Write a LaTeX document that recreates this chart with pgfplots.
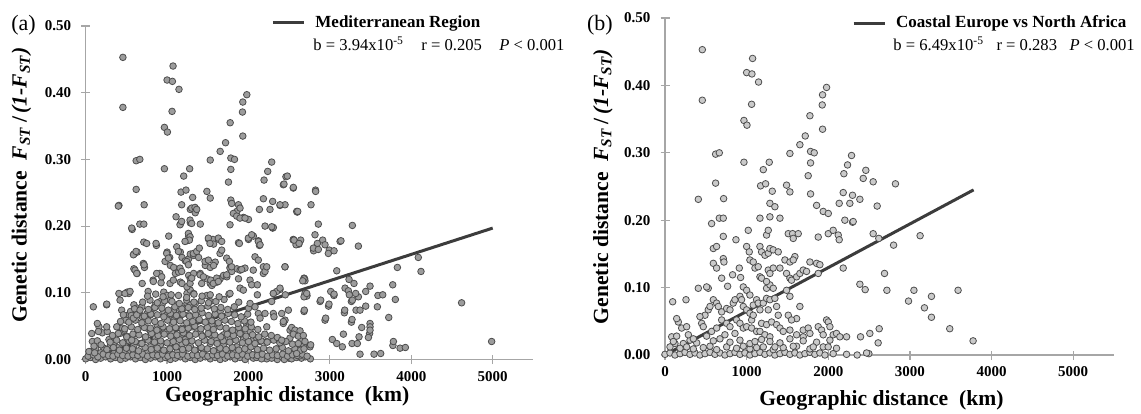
\documentclass[border=0pt]{standalone}
\usepackage{fontspec}
\setmainfont{Liberation Serif}
\usepackage{pgfplots}
\usepackage{pgfplotstable}
\pgfplotsset{compat=1.18}

\definecolor{axgray}{HTML}{A6A6A6}
\definecolor{ptedge}{HTML}{4D4D4D}
\definecolor{ptfillA}{HTML}{9C9C9C}
\definecolor{ptfillB}{HTML}{CACACA}
\definecolor{trend}{HTML}{3C3C3C}

% pairs of the coastal Europe vs North Africa comparison (also part of panel a)
\pgfplotstableread{
x y
457 0.453
457 0.378
620 0.298
665 0.300
620 0.255
408 0.231
718 0.232
967 0.286
967 0.348
1004 0.341
1000 0.419
1065 0.417
1073 0.440
1061 0.372
1146 0.405
1204 0.275
1277 0.286
1171 0.251
1232 0.254
1314 0.243
1489 0.252
1530 0.299
1530 0.242
1652 0.312
1718 0.325
1775 0.355
1783 0.302
1828 0.300
1783 0.285
1754 0.266
1783 0.239
1926 0.371
1930 0.386
1979 0.397
1930 0.335
2183 0.241
2297 0.237
2191 0.269
2236 0.282
2285 0.296
2428 0.262
2460 0.274
2550 0.257
2823 0.254
2599 0.221
2387 0.231
2297 0.197
2550 0.180
2619 0.173
3125 0.177
2800 0.163
2689 0.121
2387 0.105
2452 0.097
2718 0.096
3049 0.096
3590 0.096
2983 0.080
3264 0.087
3178 0.070
3264 0.056
3488 0.039
3774 0.021
2624 0.039
2509 0.032
2395 0.027
2611 0.018
2354 0.000
2497 0.002
1285 0.225
1346 0.220
571 0.195
665 0.203
714 0.203
1020 0.185
1163 0.203
1285 0.205
1408 0.203
1244 0.178
1265 0.185
1510 0.180
1563 0.180
1632 0.180
1571 0.173
1877 0.175
2000 0.180
2060 0.185
1938 0.213
2000 0.210
2122 0.178
2134 0.171
2203 0.200
2305 0.198
2183 0.129
2134 0.225
1857 0.222
2264 0.225
592 0.158
632 0.161
592 0.136
632 0.129
714 0.143
722 0.138
714 0.176
694 0.114
767 0.102
828 0.119
869 0.171
910 0.129
926 0.115
1000 0.161
1032 0.153
1040 0.141
1081 0.138
1102 0.129
1142 0.131
1163 0.161
1183 0.153
1163 0.116
1183 0.114
1224 0.148
1265 0.151
1285 0.158
1326 0.156
1265 0.126
1326 0.129
1285 0.121
1387 0.153
1408 0.129
1244 0.099
1285 0.104
1326 0.099
1244 0.109
1469 0.141
1530 0.138
1591 0.146
1571 0.141
1489 0.121
1530 0.114
1550 0.111
1612 0.116
1652 0.121
1693 0.126
1734 0.124
1775 0.138
1857 0.136
1877 0.121
1897 0.134
1489 0.096
1530 0.087
1652 0.072
1612 0.054
592 0.082
632 0.077
653 0.072
530 0.067
490 0.059
551 0.072
428 0.057
449 0.047
469 0.042
163 0.049
143 0.054
204 0.040
265 0.042
82 0.027
122 0.017
224 0.017
94 0.079
257 0.082
694 0.064
755 0.069
796 0.067
836 0.077
857 0.082
918 0.087
938 0.082
959 0.072
1000 0.067
1040 0.062
1081 0.074
1122 0.082
1142 0.077
1163 0.067
1204 0.077
1244 0.084
1265 0.067
1285 0.082
1346 0.084
1367 0.072
1387 0.059
1061 0.052
1081 0.059
694 0.052
755 0.047
796 0.042
877 0.052
918 0.047
959 0.040
1000 0.042
1061 0.040
1122 0.035
1183 0.047
1244 0.045
1306 0.049
1163 0.035
1224 0.030
1285 0.027
1367 0.045
1408 0.040
1448 0.035
1510 0.059
1550 0.052
1530 0.037
1612 0.030
1693 0.027
1693 0.037
1754 0.040
1775 0.032
1877 0.042
1918 0.037
1938 0.030
1979 0.052
2000 0.049
2020 0.042
2060 0.030
2101 0.032
2142 0.027
2224 0.027
408 0.099
530 0.099
510 0.101
959 0.101
1000 0.096
1040 0.089
0 0.001
61 0.003
122 0.000
184 0.002
245 0.004
306 0.001
367 0.003
428 0.000
490 0.002
551 0.004
612 0.001
673 0.003
734 0.000
796 0.002
857 0.004
918 0.001
979 0.003
1040 0.000
1102 0.002
1163 0.004
1224 0.001
1285 0.003
1346 0.000
1408 0.002
1469 0.004
1530 0.001
1591 0.003
1652 0.000
1714 0.002
1775 0.004
1836 0.001
1897 0.003
1959 0.000
2060 0.002
2224 0.001
2469 0.003
184 0.010
265 0.012
347 0.009
469 0.011
551 0.013
633 0.008
755 0.012
877 0.010
959 0.013
1040 0.009
1122 0.011
1204 0.012
1326 0.008
1448 0.011
1612 0.013
1775 0.009
1938 0.012
2101 0.010
102 0.020
306 0.022
388 0.018
592 0.021
673 0.024
796 0.019
918 0.022
1040 0.017
1183 0.023
1285 0.020
1408 0.018
1530 0.024
1693 0.021
1857 0.019
2020 0.022
61 0.012
143 0.028
286 0.030
347 0.024
510 0.028
571 0.035
633 0.040
734 0.030
857 0.032
1102 0.020
1346 0.012
1571 0.013
1816 0.012
1999 0.012
}\tabB

% remaining pairs of the Mediterranean region
\pgfplotstableread{
x y
2100 0.003
2160 0.001
2285 0.002
2410 0.004
2530 0.001
2590 0.003
2650 0.002
2700 0.004
2760 0.001
2440 0.000
2620 0.005
30 0.005
95 0.007
150 0.004
215 0.008
280 0.006
335 0.005
395 0.008
455 0.006
520 0.005
580 0.007
640 0.006
700 0.008
760 0.005
825 0.007
885 0.006
945 0.008
1010 0.005
1070 0.007
1130 0.006
1190 0.008
1255 0.005
1315 0.007
1375 0.006
1435 0.008
1500 0.005
1560 0.007
1620 0.006
1680 0.008
1745 0.005
1805 0.007
1865 0.006
1925 0.008
1990 0.005
2050 0.007
2110 0.006
2170 0.008
2235 0.005
2295 0.007
2355 0.006
2420 0.008
2480 0.005
2540 0.007
2600 0.006
2660 0.008
2720 0.005
260 0.015
340 0.018
415 0.014
500 0.017
575 0.016
650 0.013
730 0.018
805 0.015
880 0.017
960 0.014
1035 0.016
1110 0.019
1190 0.015
1265 0.017
1340 0.014
1420 0.018
1495 0.016
1570 0.013
1650 0.017
1725 0.015
1800 0.018
1880 0.014
1955 0.016
2030 0.019
2110 0.015
2185 0.017
2260 0.014
2340 0.016
2415 0.018
2490 0.013
2570 0.016
2640 0.014
300 0.026
380 0.029
455 0.025
535 0.028
610 0.027
690 0.024
765 0.029
845 0.026
920 0.028
1000 0.025
1075 0.027
1150 0.030
1230 0.026
1305 0.028
1385 0.025
1460 0.029
1540 0.027
1615 0.024
1690 0.028
1770 0.026
1845 0.029
1925 0.025
2000 0.027
2080 0.024
2155 0.028
2230 0.026
2310 0.029
2385 0.025
2460 0.027
2540 0.023
330 0.036
420 0.039
500 0.035
580 0.038
655 0.037
735 0.034
810 0.039
890 0.036
965 0.038
1045 0.035
1120 0.037
1200 0.040
1275 0.036
1350 0.038
1430 0.035
1505 0.039
1585 0.037
1660 0.034
1740 0.038
1815 0.036
1895 0.039
1970 0.035
2050 0.037
2125 0.034
2200 0.038
2280 0.036
2355 0.033
480 0.046
560 0.049
640 0.045
720 0.048
795 0.047
875 0.044
950 0.049
1030 0.046
1105 0.048
1185 0.045
1260 0.047
1340 0.050
1415 0.046
1495 0.048
1570 0.045
1650 0.049
1725 0.047
1805 0.044
1880 0.048
1960 0.046
2035 0.049
2115 0.045
530 0.056
610 0.059
690 0.055
770 0.058
850 0.057
925 0.054
1005 0.059
1080 0.056
1160 0.058
1240 0.055
1315 0.057
1395 0.060
1470 0.056
1550 0.058
1630 0.055
1710 0.059
1790 0.057
1870 0.054
1950 0.058
2030 0.056
560 0.066
640 0.069
720 0.065
800 0.068
880 0.067
960 0.064
1040 0.069
1115 0.066
1195 0.068
1275 0.065
1350 0.067
1430 0.070
1510 0.066
1590 0.068
1670 0.065
1750 0.069
1830 0.067
1910 0.064
1990 0.068
600 0.076
690 0.079
770 0.075
850 0.078
935 0.077
1015 0.074
1095 0.079
1180 0.076
1260 0.078
1340 0.075
1420 0.077
1500 0.080
1580 0.076
1660 0.078
1745 0.075
1825 0.079
2000 0.077
700 0.086
790 0.089
880 0.085
970 0.088
1060 0.087
1150 0.084
1240 0.089
1330 0.086
1420 0.088
1510 0.085
1600 0.087
1700 0.090
1880 0.086
760 0.095
860 0.098
950 0.094
1050 0.097
1140 0.096
1240 0.093
1330 0.098
1430 0.095
1530 0.097
1640 0.094
1760 0.098
258 0.083
74 0.039
156 0.042
258 0.049
422 0.089
483 0.099
545 0.102
442 0.074
463 0.067
381 0.049
401 0.039
586 0.062
627 0.067
667 0.074
504 0.034
565 0.029
40 0.012
110 0.010
190 0.022
401 0.230
1179 0.232
1302 0.227
1343 0.228
1364 0.225
1794 0.234
1876 0.232
1896 0.227
2449 0.232
565 0.197
1110 0.214
1159 0.202
1179 0.207
1282 0.209
1302 0.204
1262 0.189
1282 0.184
1274 0.179
1507 0.182
1527 0.174
1630 0.182
1671 0.177
1773 0.202
1814 0.219
1855 0.215
1896 0.212
1957 0.212
1888 0.174
1998 0.182
2039 0.187
2121 0.177
2142 0.172
2285 0.199
2183 0.139
2203 0.132
2449 0.139
2551 0.179
2584 0.172
2592 0.222
586 0.157
618 0.162
606 0.134
627 0.129
708 0.144
717 0.142
749 0.174
831 0.117
872 0.129
864 0.174
934 0.124
975 0.147
995 0.159
1016 0.152
1036 0.114
1077 0.119
1118 0.169
1139 0.162
1159 0.137
1179 0.132
1220 0.177
1241 0.147
1262 0.142
1282 0.114
1302 0.122
1323 0.159
1364 0.162
1396 0.167
1405 0.127
1446 0.124
1425 0.114
1466 0.147
1507 0.149
1536 0.119
1568 0.114
1609 0.122
1630 0.117
1650 0.159
1671 0.164
1732 0.152
1765 0.147
1773 0.137
1794 0.132
1732 0.127
1896 0.107
1937 0.104
2019 0.119
2039 0.112
2109 0.112
2080 0.154
2121 0.149
1957 0.137
2224 0.139
2306 0.099
2346 0.102
2285 0.087
2203 0.069
2449 0.059
2408 0.069
2490 0.074
2572 0.042
2059 0.134
1916 0.135
1793 0.139
2682 0.122
2694 0.118
2305 0.099
2387 0.107
2694 0.099
2715 0.095
2879 0.087
1773 0.099
2109 0.097
2019 0.084
2080 0.079
2121 0.069
2142 0.062
2305 0.069
2313 0.064
2682 0.072
2940 0.059
2224 0.049
2408 0.029
2428 0.054
2510 0.044
2551 0.042
2613 0.039
2653 0.029
2674 0.022
2756 0.019
2592 0.009
2768 0.232
2605 0.222
2858 0.203
3276 0.201
2559 0.179
2641 0.179
2621 0.174
2817 0.187
2911 0.179
2846 0.174
2940 0.172
2797 0.167
2858 0.165
2993 0.164
2981 0.159
3051 0.163
3136 0.178
3350 0.170
2448 0.139
3084 0.133
4086 0.153
4119 0.132
3829 0.138
3235 0.120
3296 0.114
2682 0.121
2666 0.118
3010 0.102
3051 0.098
3186 0.107
3227 0.103
3239 0.097
3276 0.089
3350 0.094
3317 0.099
3440 0.102
3493 0.110
3772 0.112
3649 0.097
3804 0.090
2682 0.094
2715 0.099
2887 0.089
2989 0.083
2686 0.074
3182 0.074
3321 0.074
3370 0.074
3440 0.080
3583 0.079
3723 0.063
2948 0.062
3272 0.060
2428 0.057
3391 0.048
3493 0.054
3493 0.049
3493 0.044
2530 0.048
2571 0.044
2633 0.043
2551 0.038
2612 0.035
2674 0.036
2764 0.022
2694 0.027
2682 0.016
2612 0.024
3166 0.038
3030 0.030
3084 0.024
3153 0.019
3272 0.024
3337 0.024
3358 0.034
3370 0.008
3473 0.033
3542 0.008
3624 0.009
3780 0.027
3862 0.017
3927 0.018
4618 0.085
4987 0.027
2477 0.275
2436 0.263
2551 0.258
2825 0.252
2387 0.232
}\tabA

\tikzset{
  stats/.style={font=\fontsize{8.3}{10}\selectfont, anchor=base west, inner sep=0pt},
  tag/.style={font=\fontsize{11}{12}\selectfont},
}

\pgfplotsset{
  panel/.style={
    scale only axis, clip=false,
    xmin=0, xmax=5500, ymin=0, ymax=0.5,
    axis lines*=left,
    axis line style={axgray, line width=0.6pt},
    xtick={0,1000,2000,3000,4000,5000},
    ytick={0,0.1,0.2,0.3,0.4,0.5},
    xticklabels={0,1000,2000,3000,4000,5000},
    yticklabels={0.00,0.10,0.20,0.30,0.40,0.50},
    tick align=center, major tick length=4.5pt,
    tick style={axgray, line width=0.6pt},
    tick label style={font=\fontsize{7.5}{9}\selectfont\bfseries},
    yticklabel style={xshift=-1.5pt},
    label style={font=\fontsize{10.8}{12}\selectfont\bfseries},
    xlabel={Geographic distance\ \ (km)},
    ylabel={Genetic distance\ \ \textit{F}\textsubscript{\textit{ST}}\,/\,\textit{(1-F}\textsubscript{\textit{ST}}\textit{)}},
    legend style={draw=none, fill=none, inner sep=0pt, column sep=3pt,
      font=\fontsize{8.5}{10}\selectfont\bfseries, anchor=west},
  },
  pts/.style={only marks, mark=*, mark size=1.65pt,
    mark options={draw=ptedge, line width=0.4pt, fill=#1}},
  trendline/.style={trend, line width=1.5pt, forget plot},
}

\begin{document}
\begin{tikzpicture}
\path[use as bounding box] (-42.85pt,-26.75pt) rectangle (527.65pt,179.75pt);

% (a) Mediterranean region
\begin{axis}[panel,
  at={(0pt,0pt)}, anchor=south west,
  width=223.85pt, height=166.75pt,
  xlabel style={at={(axis description cs:0.45,0)}, anchor=base, yshift=-21.1pt},
  ylabel style={at={(axis description cs:0,0.523)}, anchor=base, yshift=29.5pt},
  legend style={at={(axis description cs:0.414,1.009)}},
]
\addplot[pts=ptfillA, forget plot] table {\tabB};
\addplot[pts=ptfillA, forget plot] table {\tabA};
\addplot[trendline] coordinates {(0,0) (5000,0.197)};
\addlegendimage{legend image code/.code={\draw[trend, line width=1.5pt] (0pt,0pt) -- (15.5pt,0pt);}}
\addlegendentry{Mediterranean Region}
\node[stats] at (axis description cs:0.5077,0.928)
  {b = 3.94x10\textsuperscript{-5}\hspace{1.05em}r = 0.205\hspace{1.05em}\textit{P} < 0.001};
\node[tag] at (axis description cs:-0.139,1.003) {(a)};
\end{axis}

% (b) Coastal Europe vs North Africa
\begin{axis}[panel,
  at={(289.65pt,2.25pt)}, anchor=south west,
  width=224.5pt, height=168.5pt,
  xlabel style={at={(axis description cs:0.482,0)}, anchor=base, yshift=-25pt},
  ylabel style={at={(axis description cs:0,0.50)}, anchor=base, yshift=28.5pt},
  legend style={at={(axis description cs:0.416,0.985)}},
]
\addplot[pts=ptfillB, forget plot] table {\tabB};
\addplot[trendline] coordinates {(0,0) (3780,0.245)};
\addlegendimage{legend image code/.code={\draw[trend, line width=1.5pt] (0pt,0pt) -- (15.5pt,0pt);}}
\addlegendentry{Coastal Europe vs North Africa}
\node[stats] at (axis description cs:0.508,0.905)
  {b = 6.49x10\textsuperscript{-5}\hspace{0.75em}r = 0.283\hspace{0.75em}\textit{P} < 0.001};
\node[tag] at (axis description cs:-0.145,0.979) {(b)};
\end{axis}
\end{tikzpicture}
\end{document}
